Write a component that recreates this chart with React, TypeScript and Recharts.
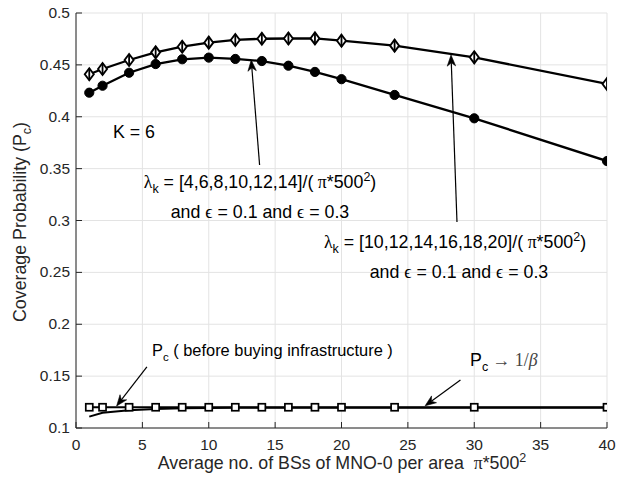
import React from 'react';
import { LineChart, Line, XAxis, YAxis, CartesianGrid, ReferenceLine } from 'recharts';

const xValues = [1, 2, 4, 6, 8, 10, 12, 14, 16, 18, 20, 24, 30, 40];
const pcHighLambda = [0.441, 0.446, 0.4547, 0.4621, 0.4675, 0.4714, 0.474, 0.4752, 0.4754, 0.4755, 0.4733, 0.4685, 0.4573, 0.4316];
const pcLowLambda = [0.4232, 0.4299, 0.4424, 0.4508, 0.4554, 0.457, 0.4557, 0.4537, 0.4492, 0.4432, 0.4362, 0.421, 0.3985, 0.3573];
const pcLimit = [0.12, 0.12, 0.12, 0.12, 0.12, 0.12, 0.12, 0.12, 0.12, 0.12, 0.12, 0.12, 0.12, 0.12];
const pcBefore = [0.111, 0.1147, 0.117, 0.1183, 0.119, 0.1193, 0.1195, 0.1196, 0.1196, 0.1196, 0.1196, 0.1196, 0.1196, 0.1196];

const xTicks = [0, 5, 10, 15, 20, 25, 30, 35, 40];
const yTicks = [0.1, 0.15, 0.2, 0.25, 0.3, 0.35, 0.4, 0.45, 0.5];

// annotation arrows: tail -> tip, in data coordinates
const arrowTails = [
  { x: 13.83, y: 0.3535 },
  { x: 28.7, y: 0.2986 },
  { x: 5.34, y: 0.159 },
  { x: 28.96, y: 0.1463 },
];
const arrowTips = [
  { x: 13.2, y: 0.4547 },
  { x: 28.25, y: 0.4595 },
  { x: 3.06, y: 0.1212 },
  { x: 26.3, y: 0.1214 },
];

const data = xValues.map((x, i) => ({
  x,
  high: pcHighLambda[i],
  low: pcLowLambda[i],
  limit: pcLimit[i],
  before: pcBefore[i],
}));

const FONT = '"Liberation Sans", Arial, Helvetica, sans-serif';
const GREEK = '"Liberation Serif", "DejaVu Serif", serif';
const AX = '#262626';
const FS = 17.8;
const SFS = 12.5;

const XTick = (props: any) => {
  const { x, y, payload } = props;
  return (
    <g>
      <line x1={x} x2={x} y1={y} y2={y - 6} stroke={AX} strokeWidth={1} />
      <text x={x} y={y + 22} textAnchor="middle" fontFamily={FONT} fontSize={15.5} fill={AX}>
        {String(payload.value)}
      </text>
    </g>
  );
};

const YTick = (props: any) => {
  const { x, y, payload } = props;
  const v = Math.round(payload.value * 100) / 100;
  return (
    <g>
      <line x1={x} x2={x + 6} y1={y} y2={y} stroke={AX} strokeWidth={1} />
      <text x={x - 6} y={y + 5} textAnchor="end" fontFamily={FONT} fontSize={15.5} fill={AX}>
        {String(v)}
      </text>
    </g>
  );
};

const DiamondDot = (props: any) => {
  const { cx, cy } = props;
  if (cx == null || cy == null) return null;
  return (
    <g>
      <polygon
        points={`${cx},${cy - 6} ${cx + 4.5},${cy} ${cx},${cy + 6} ${cx - 4.5},${cy}`}
        fill="#fff"
        stroke="#000"
        strokeWidth={1.9}
      />
      <line x1={cx} x2={cx} y1={cy - 6} y2={cy + 6} stroke="#000" strokeWidth={1.8} />
    </g>
  );
};

const CircleDot = (props: any) => {
  const { cx, cy } = props;
  if (cx == null || cy == null) return null;
  return <circle cx={cx} cy={cy} r={4.6} fill="#000" stroke="#000" strokeWidth={1} />;
};

const SquareDot = (props: any) => {
  const { cx, cy } = props;
  if (cx == null || cy == null) return null;
  return <rect x={cx - 3.5} y={cy - 3.5} width={7} height={7} fill="#fff" stroke="#000" strokeWidth={1.7} />;
};

const ArrowShape = (props: any) => {
  const { x1, y1, x2, y2 } = props;
  if ([x1, y1, x2, y2].some((v) => v == null || isNaN(v))) return null;
  const dx = x2 - x1;
  const dy = y2 - y1;
  const len = Math.hypot(dx, dy) || 1;
  const ux = dx / len;
  const uy = dy / len;
  const px = -uy;
  const py = ux;
  const L = 11;
  const W = 4.2;
  const bx = x2 - ux * L;
  const by = y2 - uy * L;
  const nx = x2 - ux * L * 0.7;
  const ny = y2 - uy * L * 0.7;
  return (
    <g>
      <line x1={x1} y1={y1} x2={nx} y2={ny} stroke="#000" strokeWidth={1.2} />
      <polygon
        points={`${x2},${y2} ${bx + px * W},${by + py * W} ${nx},${ny} ${bx - px * W},${by - py * W}`}
        fill="#000"
        stroke="#000"
        strokeWidth={0.6}
      />
    </g>
  );
};

export default function App() {
  return (
    <div style={{ position: 'absolute', left: 0, top: 0, width: 618, height: 481, background: '#fff' }}>
      <LineChart
        width={618}
        height={481}
        data={data}
        margin={{ top: 13, right: 11, bottom: 23, left: 0 }}
      >
        <CartesianGrid stroke="#e3e3e3" strokeWidth={1} />
        <XAxis
          dataKey="x"
          type="number"
          domain={[0, 40]}
          ticks={xTicks}
          interval={0}
          height={30}
          tickLine={false}
          tickSize={0}
          tickMargin={0}
          tick={<XTick />}
          axisLine={{ stroke: AX, strokeWidth: 1 }}
          allowDataOverflow
        />
        <YAxis
          type="number"
          domain={[0.1, 0.5]}
          ticks={yTicks}
          interval={0}
          width={76}
          tickLine={false}
          tickSize={0}
          tickMargin={0}
          tick={<YTick />}
          axisLine={{ stroke: AX, strokeWidth: 1 }}
          allowDataOverflow
        />
        <Line dataKey="before" type="linear" stroke="#000" strokeWidth={2} dot={false} isAnimationActive={false} />
        <Line dataKey="limit" type="linear" stroke="#000" strokeWidth={2} dot={<SquareDot />} isAnimationActive={false} />
        <Line dataKey="low" type="linear" stroke="#000" strokeWidth={2.3} dot={<CircleDot />} isAnimationActive={false} />
        <Line dataKey="high" type="linear" stroke="#000" strokeWidth={2.3} dot={<DiamondDot />} isAnimationActive={false} />
        {arrowTails.map((t, i) => (
          <ReferenceLine
            key={i}
            segment={[
              { x: t.x, y: t.y },
              { x: arrowTips[i].x, y: arrowTips[i].y },
            ]}
            shape={<ArrowShape />}
            ifOverflow="visible"
          />
        ))}
      </LineChart>
      <svg
        width={618}
        height={481}
        style={{ position: 'absolute', left: 0, top: 0, pointerEvents: 'none' }}
        fontFamily={FONT}
      >
        {/* axis titles */}
        <text x={342} y={469} textAnchor="middle" fontSize={FS} fill={AX}>
          Average no. of BSs of MNO-0 per area{'\u00A0\u00A0'}
          <tspan fontFamily={GREEK}>π</tspan>*500
          <tspan fontSize={SFS} dy={-7}>2</tspan>
        </text>
        <g transform="translate(26,222) rotate(-90)">
          <text x={0} y={0} textAnchor="middle" fontSize={FS} fill={AX}>
            Coverage Probability (P
            <tspan fontSize={SFS} dy={5}>c</tspan>
            <tspan dy={-5}>)</tspan>
          </text>
        </g>
        {/* K = 6 */}
        <text x={113} y={138} fontSize={FS} fill="#000">K = 6</text>
        {/* annotation 1 */}
        <text x={260} y={188} textAnchor="middle" fontSize={FS} fill="#000">
          <tspan fontFamily={GREEK}>λ</tspan>
          <tspan fontSize={SFS} dy={5}>k</tspan>
          <tspan dy={-5}> = [4,6,8,10,12,14]/(</tspan>
          <tspan fontFamily={GREEK}>{'\u00A0'}π</tspan>
          <tspan>*500</tspan>
          <tspan fontSize={SFS} dy={-7}>2</tspan>
          <tspan dy={7}>)</tspan>
        </text>
        <text x={260} y={218} textAnchor="middle" fontSize={FS} fill="#000">
          and <tspan fontFamily={GREEK}>ϵ</tspan> = 0.1 and <tspan fontFamily={GREEK}>ϵ</tspan> = 0.3
        </text>
        {/* annotation 2 */}
        <text x={455} y={248} textAnchor="middle" fontSize={FS} fill="#000">
          <tspan fontFamily={GREEK}>λ</tspan>
          <tspan fontSize={SFS} dy={5}>k</tspan>
          <tspan dy={-5}> = [10,12,14,16,18,20]/(</tspan>
          <tspan fontFamily={GREEK}>{'\u00A0'}π</tspan>
          <tspan>*500</tspan>
          <tspan fontSize={SFS} dy={-7}>2</tspan>
          <tspan dy={7}>)</tspan>
        </text>
        <text x={459} y={278} textAnchor="middle" fontSize={FS} fill="#000">
          and <tspan fontFamily={GREEK}>ϵ</tspan> = 0.1 and <tspan fontFamily={GREEK}>ϵ</tspan> = 0.3
        </text>
        {/* annotation 3 */}
        <text x={152} y={356} fontSize={16.4} fill="#000">
          P<tspan fontSize={11.5} dy={5}>c</tspan>
          <tspan dy={-5}> ( before buying infrastructure )</tspan>
        </text>
        {/* annotation 4 */}
        <text x={470} y={366} fontSize={FS} fill="#000">
          P<tspan fontSize={SFS} dy={5}>c</tspan>
          <tspan dy={-5} fontFamily={GREEK} fill="#444"> → 1/</tspan>
          <tspan fontFamily={GREEK} fontStyle="italic" fill="#444">β</tspan>
        </text>
      </svg>
    </div>
  );
}
